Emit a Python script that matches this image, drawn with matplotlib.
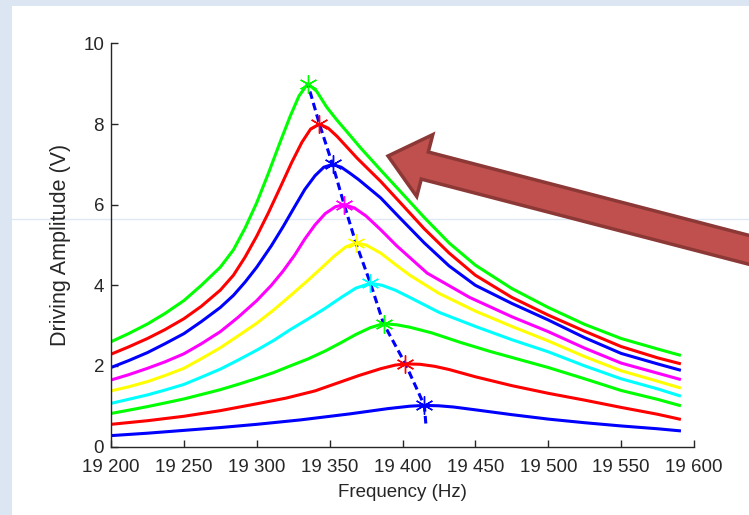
import matplotlib
matplotlib.use('Agg')
import matplotlib.pyplot as plt
import matplotlib.patches as mpatches
from matplotlib.lines import Line2D
from matplotlib.ticker import FuncFormatter

# resonance sweeps, drive level 1 (bottom) .. 9 (top)
f1 = [19200, 19225, 19250, 19275, 19300, 19330, 19364, 19390, 19405, 19415, 19425, 19435, 19450, 19475, 19500, 19525, 19550, 19575, 19590]
a1 = [0.27, 0.33, 0.40, 0.47, 0.55, 0.66, 0.81, 0.94, 1.00, 1.02, 1.01, 0.98, 0.91, 0.79, 0.68, 0.59, 0.51, 0.44, 0.39]

f2 = [19200, 19225, 19250, 19275, 19300, 19320, 19340, 19355, 19370, 19385, 19395, 19402, 19412, 19422, 19432, 19450, 19475, 19500, 19525, 19550, 19575, 19590]
a2 = [0.55, 0.64, 0.75, 0.89, 1.06, 1.20, 1.38, 1.57, 1.76, 1.93, 2.02, 2.05, 2.04, 1.99, 1.91, 1.73, 1.51, 1.32, 1.15, 0.97, 0.80, 0.68]

f3 = [19200, 19212, 19225, 19237, 19250, 19262, 19275, 19287, 19300, 19312, 19323, 19335, 19347, 19358, 19368, 19378, 19387, 19396, 19405, 19420, 19440, 19460, 19480, 19500, 19525, 19550, 19575, 19590]
a3 = [0.82, 0.90, 0.99, 1.08, 1.18, 1.29, 1.41, 1.54, 1.69, 1.84, 2.00, 2.17, 2.37, 2.58, 2.78, 2.95, 3.05, 3.02, 2.96, 2.82, 2.58, 2.36, 2.16, 1.96, 1.68, 1.39, 1.17, 1.02]

f4 = [19200, 19212, 19225, 19237, 19250, 19262, 19275, 19287, 19300, 19312, 19323, 19335, 19347, 19358, 19368, 19378, 19386, 19395, 19405, 19425, 19450, 19475, 19500, 19525, 19550, 19575, 19590]
a4 = [1.07, 1.17, 1.28, 1.40, 1.54, 1.72, 1.92, 2.14, 2.39, 2.64, 2.90, 3.16, 3.43, 3.70, 3.93, 4.05, 4.00, 3.88, 3.70, 3.33, 2.98, 2.65, 2.35, 2.00, 1.68, 1.43, 1.26]

f5 = [19200, 19212, 19225, 19237, 19250, 19262, 19275, 19287, 19300, 19312, 19323, 19335, 19345, 19353, 19361, 19368, 19375, 19385, 19395, 19405, 19425, 19450, 19475, 19500, 19525, 19550, 19575, 19590]
a5 = [1.38, 1.48, 1.61, 1.76, 1.94, 2.18, 2.45, 2.74, 3.06, 3.40, 3.74, 4.12, 4.45, 4.72, 4.95, 5.05, 5.00, 4.80, 4.52, 4.25, 3.80, 3.36, 2.98, 2.62, 2.23, 1.88, 1.62, 1.46]

f6 = [19200, 19212, 19225, 19237, 19250, 19262, 19275, 19287, 19300, 19310, 19318, 19326, 19333, 19340, 19347, 19354, 19360, 19367, 19375, 19385, 19396, 19417, 19446, 19475, 19500, 19525, 19550, 19575, 19590]
a6 = [1.65, 1.78, 1.94, 2.10, 2.30, 2.55, 2.85, 3.20, 3.62, 4.00, 4.35, 4.75, 5.15, 5.50, 5.78, 5.95, 6.00, 5.92, 5.72, 5.38, 4.98, 4.30, 3.70, 3.22, 2.85, 2.44, 2.07, 1.82, 1.67]

f7 = [19200, 19212, 19225, 19237, 19250, 19262, 19275, 19284, 19292, 19300, 19310, 19318, 19326, 19333, 19340, 19346, 19352, 19358, 19364, 19370, 19385, 19398, 19415, 19432, 19450, 19475, 19500, 19525, 19550, 19575, 19590]
a7 = [1.96, 2.13, 2.33, 2.55, 2.80, 3.10, 3.45, 3.75, 4.08, 4.45, 4.98, 5.45, 5.95, 6.38, 6.72, 6.93, 7.00, 6.93, 6.78, 6.62, 6.17, 5.68, 5.05, 4.48, 4.00, 3.55, 3.14, 2.70, 2.31, 2.05, 1.90]

f8 = [19200, 19212, 19225, 19237, 19250, 19262, 19275, 19284, 19292, 19300, 19308, 19316, 19324, 19331, 19337, 19343, 19349, 19355, 19369, 19385, 19398, 19415, 19432, 19450, 19475, 19500, 19525, 19550, 19575, 19590]
a8 = [2.29, 2.47, 2.68, 2.90, 3.17, 3.48, 3.88, 4.25, 4.70, 5.22, 5.80, 6.42, 7.05, 7.55, 7.88, 8.00, 7.90, 7.70, 7.15, 6.58, 6.07, 5.40, 4.80, 4.25, 3.70, 3.26, 2.86, 2.48, 2.20, 2.06]

f9 = [19200, 19212, 19225, 19237, 19250, 19262, 19275, 19284, 19292, 19300, 19308, 19316, 19323, 19329, 19335, 19341, 19348, 19355, 19364, 19371, 19385, 19398, 19415, 19432, 19450, 19475, 19500, 19525, 19550, 19575, 19590]
a9 = [2.60, 2.80, 3.04, 3.30, 3.62, 4.00, 4.45, 4.88, 5.42, 6.05, 6.78, 7.55, 8.20, 8.70, 9.00, 8.82, 8.42, 8.10, 7.72, 7.42, 6.86, 6.35, 5.68, 5.05, 4.50, 3.92, 3.45, 3.03, 2.68, 2.42, 2.27]

sweeps = [(f1, a1), (f2, a2), (f3, a3), (f4, a4), (f5, a5), (f6, a6), (f7, a7), (f8, a8), (f9, a9)]
colors = ['#0000ff', '#ff0000', '#00ff00', '#00ffff', '#ffff00', '#ff00ff', '#0000ff', '#ff0000', '#00ff00']

# peak of each sweep (backbone)
peak_freq = [19415, 19402, 19387, 19378, 19368, 19360, 19352, 19343, 19335]
peak_amp = [1.02, 2.05, 3.05, 4.05, 5.05, 6.00, 7.00, 8.00, 9.00]
backbone_freq = [19416] + peak_freq
backbone_amp = [0.57] + peak_amp

xticks = [19200, 19250, 19300, 19350, 19400, 19450, 19500, 19550, 19600]
yticks = [0, 2, 4, 6, 8, 10]

plt.rcParams['font.family'] = ['Liberation Sans', 'DejaVu Sans']

W, H = 749, 515
fig = plt.figure(figsize=(W / 100, H / 100), dpi=100, facecolor='#dce6f2')

# white slide panel and faint guide line
fig.patches.append(mpatches.Rectangle((12 / W, 0), 1, (H - 6) / H, transform=fig.transFigure,
                                      facecolor='white', edgecolor='none', zorder=-3))
fig.lines.append(Line2D([12 / W, 1], [1 - 219 / H, 1 - 219 / H], transform=fig.transFigure,
                        color='#dfe8f5', lw=1, zorder=-2))

ax = fig.add_axes([111 / W, 1 - 446.5 / H, (694 - 111) / W, (446.5 - 43.5) / H])
ax.patch.set_visible(False)

for (f, a), c in zip(sweeps, colors):
    ax.plot(f, a, color=c, lw=2.2)

ax.plot(backbone_freq, backbone_amp, color='#0000ff', lw=2.2, dashes=(2.5, 1.4))
for fx, ay, c in zip(peak_freq, peak_amp, colors):
    ax.plot(fx, ay, marker=(6, 2, 0), ms=13, mew=1.0, color=c, ls='none')

ax.set_xlim(19200, 19600)
ax.set_ylim(0, 10)
ax.set_xticks(xticks)
ax.set_yticks(yticks)
ax.xaxis.set_major_formatter(FuncFormatter(lambda v, p: '{:,}'.format(int(v)).replace(',', ' ')))
ax.spines['top'].set_visible(False)
ax.spines['right'].set_visible(False)
for s in ['left', 'bottom']:
    ax.spines[s].set_color('#262626')
    ax.spines[s].set_linewidth(1.0)
ax.tick_params(direction='in', length=5, width=1.0, color='#262626', labelsize=13.5,
               labelcolor='#262626')
ax.tick_params(axis='x', pad=9)
ax.tick_params(axis='y', pad=5)
ax.set_xlabel('Frequency (Hz)', fontsize=13.5, color='#262626', labelpad=6)
ax.set_ylabel('Driving Amplitude (V)', fontsize=15.5, color='#262626', labelpad=9)

# highlight arrow (slide annotation, in pixels)
arrow = mpatches.FancyArrow(765, H - 254, 388 - 765, (H - 156) - (H - 254), width=28,
                            head_width=64, head_length=38, length_includes_head=True,
                            transform=None, facecolor='#c0504d', edgecolor='#8c3836',
                            lw=2.5, zorder=5)
fig.patches.append(arrow)

fig.savefig('out.png', dpi=100, facecolor=fig.get_facecolor())
